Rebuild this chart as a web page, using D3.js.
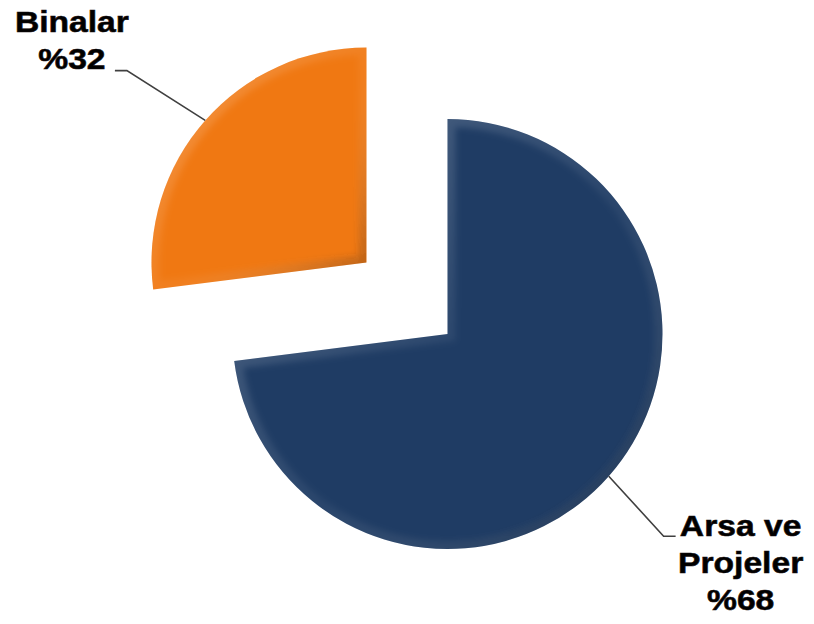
<!DOCTYPE html>
<html>
<head>
<meta charset="utf-8">
<script src="https://cdn.jsdelivr.net/npm/d3@7"></script>
<style>
  html, body { margin: 0; padding: 0; background: #fff; }
  svg { display: block; }
  .label { font-family: "Liberation Sans", Arial, sans-serif; font-weight: bold; font-size: 29px; fill: #000; stroke: #1a1010; stroke-width: 0.6px; }
</style>
</head>
<body>
<div class="chart"></div>
<script>
// slice sizes as drawn, and the percent text shown in the labels
var categories = ["Arsa ve Projeler", "Binalar"];
var shares = [73, 27];
var percentLabels = [68, 32];
var labelLines = [["Arsa ve", "Projeler"], ["Binalar"]];
var colors = ["#1f3c64", "#f07812"];

var width = 814, height = 624;
var center = {x: 447.5, y: 334};
var radius = 215;
var explode = [0, 108];
var elbowR = [296, 307];
var elbowTurn = [1.7, -2.7]; // degrees, leader elbow vs mid angle

var svg = d3.select(".chart").append("svg")
    .attr("width", width)
    .attr("height", height);

var defs = svg.append("defs");
var rim = defs.append("linearGradient").attr("id", "rim")
    .attr("x1", 0).attr("y1", 0).attr("x2", 1).attr("y2", 1);
rim.append("stop").attr("offset", "0%").attr("stop-color", "#fff").attr("stop-opacity", 0.22);
rim.append("stop").attr("offset", "55%").attr("stop-color", "#fff").attr("stop-opacity", 0.05);
rim.append("stop").attr("offset", "100%").attr("stop-color", "#000").attr("stop-opacity", 0.25);
defs.append("filter").attr("id", "soft")
  .append("feGaussianBlur").attr("stdDeviation", 3);

var pie = d3.pie().sort(null).value(d => d);
var arcs = pie(shares);
var arc = d3.arc().innerRadius(0).outerRadius(radius);

function polar(angle, r) {
  return [Math.sin(angle) * r, -Math.cos(angle) * r];
}

var g = svg.append("g")
    .attr("transform", `translate(${center.x}, ${center.y})`);

var slices = g.selectAll(".slice")
  .data(arcs)
  .enter().append("g")
    .attr("class", "slice")
    .attr("transform", (d, i) => {
      var mid = (d.startAngle + d.endAngle) / 2;
      var p = polar(mid, explode[i]);
      return `translate(${p[0]}, ${p[1]})`;
    });

slices.append("clipPath")
    .attr("id", (d, i) => "clip" + i)
  .append("path")
    .attr("d", arc);

slices.append("path")
    .attr("d", arc)
    .attr("fill", (d, i) => colors[i]);

// soft bevel rim inside each slice
slices.append("g")
    .attr("clip-path", (d, i) => `url(#clip${i})`)
  .append("path")
    .attr("d", arc)
    .attr("fill", "none")
    .attr("stroke", "url(#rim)")
    .attr("stroke-width", 16)
    .attr("filter", "url(#soft)");

// leader lines + labels
slices.each(function(d, i) {
  var mid = (d.startAngle + d.endAngle) / 2;
  var a = polar(mid, radius);
  var b = polar(mid + elbowTurn[i] * Math.PI / 180, elbowR[i]);
  var dir = Math.sin(mid) >= 0 ? 1 : -1;
  var c = [b[0] + dir * 12, b[1]];
  var sel = d3.select(this);
  sel.append("polyline")
      .attr("points", [a, b, c].map(p => p.join(",")).join(" "))
      .attr("fill", "none")
      .attr("stroke", "#404040")
      .attr("stroke-width", 1.6);

  var lines = labelLines[i].concat(["%" + percentLabels[i]]);
  var lh = 37;
  var cx = c[0] + dir * (dir > 0 ? 65 : 43);
  var y0 = dir > 0 ? c[1] : c[1] - lh * (lines.length - 1) - 2;
  lines.forEach(function(t, k) {
    sel.append("text")
        .attr("class", "label")
        .attr("text-anchor", "middle")
        .attr("transform", `translate(${cx}, ${y0 + k * lh}) scale(1.16, 1)`)
        .text(t);
  });
});
</script>
</body>
</html>
